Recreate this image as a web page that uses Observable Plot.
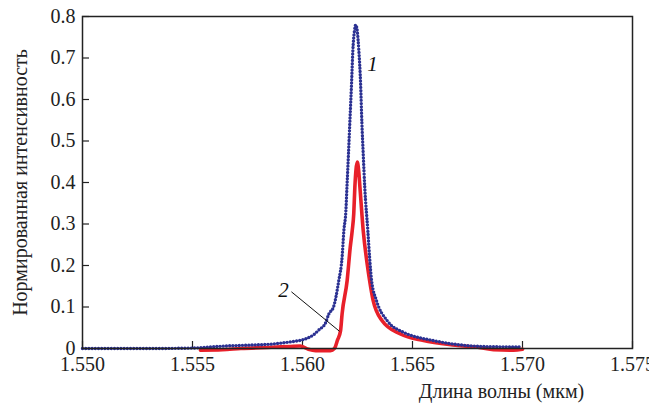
<!DOCTYPE html>
<html><head><meta charset="utf-8">
<script src="https://cdn.jsdelivr.net/npm/d3@7"></script>
<script src="https://cdn.jsdelivr.net/npm/@observablehq/plot@0.6"></script>
<style>
html,body{margin:0;padding:0;background:#fff;font-family:"Liberation Serif",Tinos,"Times New Roman",Times,"Noto Serif","DejaVu Serif",FreeSerif,serif;font-size:20px}
#chart svg text{font-family:"Liberation Serif",Tinos,"Times New Roman",Times,"Noto Serif","DejaVu Serif",FreeSerif,serif !important;}
</style>
</head><body><div id="chart"></div>
<script>
// Curve 1 (blue, dotted)
const blueWavelength = [1.5500,1.5530,1.5550,1.55536,1.5565,1.5575,1.55868,1.55945,1.5600,1.5605,1.56075,1.56105,1.56120,1.56141,1.56165,1.56180,1.56188,1.56197,1.56202,1.56209,1.56215,1.56223,1.56229,1.56236,1.56242,1.56249,1.56256,1.56264,1.56270,1.56276,1.56283,1.56297,1.56305,1.56314,1.56336,1.56385,1.56455,1.56476,1.56595,1.56695,1.56809,1.5690,1.5699];
const blueIntensity  = [0,0,0.001,0.002,0.006,0.008,0.011,0.016,0.021,0.033,0.045,0.062,0.0835,0.100,0.164,0.22,0.284,0.330,0.389,0.469,0.543,0.639,0.719,0.765,0.780,0.765,0.719,0.639,0.543,0.469,0.389,0.284,0.22,0.164,0.116,0.067,0.040,0.035,0.019,0.010,0.005,0.004,0.004];
// Curve 2 (red, solid)
const redWavelength = [1.55536,1.55636,1.5572,1.5586,1.55945,1.5599,1.56027,1.5606,1.56127,1.56145,1.56159,1.56173,1.56180,1.56203,1.56217,1.56226,1.56233,1.56238,1.56243,1.56249,1.56255,1.56261,1.56276,1.56295,1.56305,1.56321,1.56362,1.56445,1.56550,1.56695,1.56809,1.56868,1.56959,1.5700];
const redIntensity  = [-0.004,-0.003,0,0.003,0.005,0.006,-0.002,-0.005,-0.005,0,0.020,0.043,0.0835,0.164,0.244,0.284,0.325,0.389,0.430,0.449,0.430,0.389,0.284,0.20,0.164,0.116,0.067,0.035,0.019,0.008,0.002,-0.003,-0.004,-0.002];
const xTicks = [1.550,1.555,1.560,1.565,1.570,1.575];
const yTicks = [0,0.1,0.2,0.3,0.4,0.5,0.6,0.7,0.8];
const curveLabels = ["1","2"];
const labelWavelength = [1.56318,1.55914];
const labelIntensity = [0.684,0.14];
const leaderWavelength = [1.55951,1.56167];
const leaderIntensity = [0.136,0.042];
const xTitle = "Длина волны (мкм)";
const yTitle = "Нормированная интенсивность";

const blue = blueWavelength.map((x,i)=>({x, y: blueIntensity[i]}));
const red = redWavelength.map((x,i)=>({x, y: redIntensity[i]}));
const labels = curveLabels.map((t,i)=>({t, x: labelWavelength[i], y: labelIntensity[i]}));
const leader = leaderWavelength.map((x,i)=>({x, y: leaderIntensity[i]}));

const FONT = "Liberation Serif, Tinos, Times New Roman, Times, Noto Serif, DejaVu Serif, FreeSerif, serif";
const chart = Plot.plot({
  width: 649, height: 410,
  marginLeft: 82, marginRight: 17, marginTop: 16, marginBottom: 62,
  style: "font-family: 'Liberation Serif', Tinos, 'Times New Roman', Times, serif; font-size: 20px; background: #fff; color: #222; overflow: visible;",
  x: {domain: [1.550, 1.575]},
  y: {domain: [0, 0.8]},
  marks: [
    Plot.axisX(xTicks, {tickSize: -7, tickPadding: 15, tickFormat: d3.format(".3f"), label: null, fontSize: 20, fontFamily: FONT, stroke: "#222", strokeWidth: 1.2}),
    Plot.axisY(yTicks, {tickSize: -7, tickPadding: 14, tickFormat: d => d === 0 ? "0" : d.toFixed(1), label: null, fontSize: 20, fontFamily: FONT, stroke: "#222", strokeWidth: 1.2}),
    Plot.line(red, {x: "x", y: "y", stroke: "#e8202a", strokeWidth: 3.6, curve: "monotone-x"}),
    Plot.line(blue, {x: "x", y: "y", stroke: "#2b3192", strokeWidth: 3.4, strokeDasharray: "0 3.2", strokeLinecap: "round", curve: "monotone-x"}),
    Plot.line(leader, {x: "x", y: "y", stroke: "#111", strokeWidth: 1}),
    Plot.text(labels, {x: "x", y: "y", text: "t", fontStyle: "italic", fontSize: 21, fontFamily: FONT, fill: "#111"}),
    Plot.frame({stroke: "#222", strokeWidth: 1.5}),
    Plot.text([xTitle], {frameAnchor: "bottom", dx: 144, dy: 49, fontSize: 20, fontFamily: FONT, fill: "#222"}),
    Plot.text([yTitle], {frameAnchor: "left", textAnchor: "middle", dx: -62, rotate: -90, fontSize: 20, fontFamily: FONT, fill: "#222"})
  ]
});
chart.setAttribute("font-family", FONT);
chart.querySelectorAll("text").forEach(el => el.setAttribute("font-family", FONT));
document.getElementById("chart").appendChild(chart);
</script>
</body></html>
